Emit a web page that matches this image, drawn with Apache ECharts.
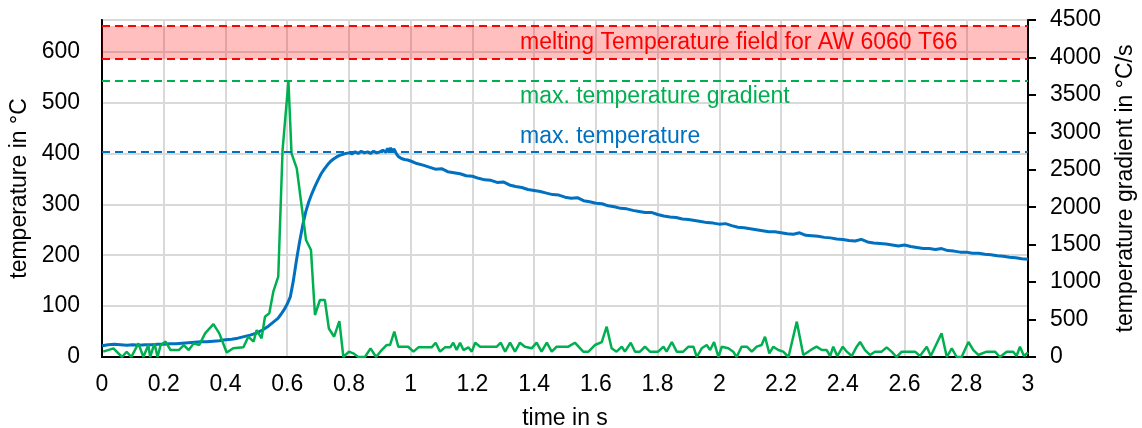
<!DOCTYPE html>
<html><head><meta charset="utf-8">
<script src="https://cdn.jsdelivr.net/npm/echarts@6/dist/echarts.min.js"></script>
<style>html,body{margin:0;padding:0;background:#fff}#c{width:1142px;height:428px}</style>
</head><body><div id="c"></div>
<script>
// ---- data ----
const tempTime = [0,0.02,0.04,0.06,0.08,0.10,0.12,0.14,0.16,0.18,0.20,0.22,0.24,0.26,0.28,0.30,0.32,0.34,0.36,0.38,0.40,0.42,0.44,0.46,0.48,0.50,0.52,0.54,0.56,0.57,0.58,0.59,0.60,0.61,0.62,0.63,0.64,0.65,0.66,0.67,0.68,0.69,0.70,0.71,0.72,0.73,0.74,0.75,0.76,0.77,0.78,0.79,0.80,0.81,0.82,0.83,0.84,0.85,0.86,0.87,0.88,0.89,0.90,0.91,0.92,0.925,0.93,0.935,0.94,0.945,0.95,0.955,0.96,0.97,0.98,0.99,1.00,1.02,1.04,1.06,1.08,1.10,1.12,1.14,1.16,1.18,1.20,1.22,1.24,1.26,1.28,1.30,1.32,1.34,1.36,1.38,1.40,1.42,1.44,1.46,1.48,1.50,1.52,1.54,1.56,1.58,1.60,1.62,1.64,1.66,1.68,1.70,1.72,1.74,1.76,1.78,1.80,1.82,1.84,1.86,1.88,1.90,1.92,1.94,1.96,1.98,2.00,2.02,2.04,2.06,2.08,2.10,2.12,2.14,2.16,2.18,2.20,2.22,2.24,2.26,2.28,2.30,2.32,2.34,2.36,2.38,2.40,2.42,2.44,2.46,2.48,2.50,2.52,2.54,2.56,2.58,2.60,2.62,2.64,2.66,2.68,2.70,2.72,2.74,2.76,2.78,2.80,2.82,2.84,2.86,2.88,2.90,2.92,2.94,2.96,2.98,3.00];
const tempValue = [22,24,25,24,23,24,23,24,24,25,25,26,26,27,28,29,30,30,31,32,34,35,37,40,43,47,53,61,71,76,84,93,104,118,150,190,226,258,285,305,321,335,348,360,369,377,384,389,393,396,398,400,401,399,403,400,404,401,403,400,404,401,403,406,402,410,403,411,402,409,404,398,394,390,388,387,385,380,377,373,369,370,364,362,360,356,355,351,348,347,343,344,338,335,333,329,327,325,322,319,318,314,312,313,307,305,302,301,297,295,292,291,288,286,284,284,280,277,275,274,271,270,268,266,264,263,261,262,258,255,254,252,250,248,246,246,244,242,241,244,239,238,237,235,234,232,231,229,228,231,226,224,223,222,220,218,220,217,215,213,213,211,213,209,208,206,206,204,204,202,201,199,198,196,195,193,192];

const gradTime = [0.004,0.037,0.065,0.08,0.095,0.118,0.134,0.15,0.156,0.17,0.18,0.19,0.206,0.222,0.249,0.265,0.281,0.297,0.315,0.334,0.361,0.38,0.404,0.425,0.458,0.474,0.491,0.501,0.517,0.528,0.542,0.555,0.571,0.585,0.604,0.614,0.631,0.661,0.677,0.69,0.706,0.722,0.735,0.752,0.769,0.782,0.8,0.814,0.83,0.852,0.87,0.888,0.906,0.922,0.933,0.947,0.96,0.992,1.009,1.025,1.068,1.081,1.095,1.111,1.128,1.138,1.149,1.16,1.171,1.187,1.198,1.209,1.225,1.279,1.292,1.306,1.322,1.338,1.354,1.37,1.392,1.408,1.424,1.441,1.457,1.473,1.511,1.532,1.559,1.576,1.597,1.619,1.635,1.651,1.667,1.684,1.694,1.713,1.727,1.743,1.759,1.775,1.802,1.819,1.829,1.846,1.862,1.883,1.90,1.916,1.927,1.943,1.959,1.97,1.983,1.997,2.008,2.029,2.045,2.056,2.072,2.089,2.105,2.121,2.137,2.148,2.162,2.175,2.191,2.207,2.224,2.251,2.272,2.288,2.305,2.315,2.332,2.348,2.359,2.369,2.382,2.40,2.413,2.429,2.445,2.456,2.472,2.488,2.504,2.526,2.542,2.558,2.574,2.591,2.634,2.65,2.672,2.685,2.72,2.737,2.753,2.769,2.785,2.807,2.823,2.839,2.866,2.893,2.909,2.931,2.952,2.963,2.974,2.987,3.0];
const gradValue = [71,116,0,70,0,182,0,160,0,182,0,160,205,93,93,160,93,182,160,316,440,316,60,116,129,271,205,360,249,538,583,872,1072,2763,3680,2719,2519,1562,1428,561,761,761,380,271,480,0,71,49,0,0,116,0,93,160,160,338,137,137,71,129,129,191,71,129,129,191,93,191,93,129,71,191,138,138,191,71,191,71,191,138,116,191,71,191,71,138,138,191,71,71,160,200,405,116,71,138,71,191,71,71,138,71,71,138,71,200,71,71,138,138,0,116,160,93,200,0,138,116,71,0,138,138,71,138,160,271,49,138,93,71,0,472,27,71,116,138,93,93,13,138,13,138,71,13,138,200,93,27,71,71,129,71,0,71,71,13,138,13,316,0,116,0,0,200,93,27,71,71,0,71,71,13,138,13,60];

const xMin = 0, xMax = 3, xStep = 0.2;
const tempMax = 662, tempStep = 100;
const gradMax = 4500, gradStep = 500;
const meltLow = 585, meltHigh = 650;
const maxTemp = 403;
const maxGrad = 3685;

const labelMelt = 'melting Temperature field for AW 6060 T66';
const labelGrad = 'max. temperature gradient';
const labelTemp = 'max. temperature';
const xTitle = 'time in s';
const yTitleLeft = 'temperature in °C';
const yTitleRight = 'temperature gradient in °C/s';

// ---- chart ----
const FONT = '"Liberation Sans", Arial, sans-serif';
const FS = 23;
const BLUE = '#0070c0', GREEN = '#00b050', RED = '#ff0000';

const tempData = tempTime.map((t, i) => [t, tempValue[i]]);
const gradData = gradTime.map((t, i) => [t, gradValue[i]]);

const chart = echarts.init(document.getElementById('c'), null, {renderer: 'canvas'});
chart.setOption({
  animation: false,
  backgroundColor: '#fff',
  textStyle: {fontFamily: FONT},
  grid: {left: 102, right: 114, top: 20, bottom: 71, containLabel: false, outerBoundsMode: 'none',
    show: true, borderColor: '#000', borderWidth: 2, backgroundColor: 'transparent'},
  xAxis: {
    type: 'value', min: xMin, max: xMax, interval: xStep,
    name: xTitle, nameLocation: 'middle', nameGap: 50,
    nameTextStyle: {fontSize: FS, color: '#000', fontFamily: FONT},
    axisLine: {show: true, onZero: false, lineStyle: {color: '#000', width: 2}},
    axisTick: {show: false},
    axisLabel: {fontSize: FS, color: '#000', margin: 16, fontFamily: FONT,
      formatter: v => String(Math.round(v * 10) / 10)},
    splitLine: {show: true, lineStyle: {color: '#d9d9d9', width: 2}}
  },
  yAxis: [{
    type: 'value', min: 0, max: tempMax, interval: tempStep, position: 'left',
    name: yTitleLeft, nameLocation: 'middle', nameRotate: 90, nameGap: 62,
    nameTextStyle: {fontSize: FS, color: '#000', fontFamily: FONT},
    axisLine: {show: true, onZero: false, lineStyle: {color: '#000', width: 2}},
    axisTick: {show: false},
    axisLabel: {fontSize: FS, color: '#000', margin: 22, fontFamily: FONT, showMaxLabel: false,
      formatter: v => String(v)},
    splitLine: {show: true, lineStyle: {color: '#d9d9d9', width: 2}}
  }, {
    type: 'value', min: 0, max: gradMax, interval: gradStep, position: 'right',
    name: yTitleRight, nameLocation: 'middle', nameRotate: 90, nameGap: 86,
    nameTextStyle: {fontSize: FS, color: '#000', fontFamily: FONT},
    axisLine: {show: true, onZero: false, lineStyle: {color: '#000', width: 2}},
    axisTick: {show: true, inside: false, length: 8, lineStyle: {color: '#000', width: 2}},
    axisLabel: {fontSize: FS, color: '#000', margin: 22, fontFamily: FONT,
      formatter: v => String(v)},
    splitLine: {show: false}
  }],
  series: [{
    type: 'line', name: 'temperature', yAxisIndex: 0, data: tempData,
    showSymbol: false, symbol: 'none', z: 3,
    lineStyle: {color: BLUE, width: 3},
    markArea: {silent: true, itemStyle: {color: 'rgba(255,0,0,0.25)'},
      data: [[{yAxis: meltLow}, {yAxis: meltHigh}]]},
    markLine: {silent: true, symbol: 'none', label: {show: false},
      data: [
        {yAxis: meltLow, lineStyle: {color: RED, type: [8, 5], width: 2}},
        {yAxis: meltHigh, lineStyle: {color: RED, type: [8, 5], width: 2}},
        {yAxis: maxTemp, lineStyle: {color: BLUE, type: [8, 5], width: 2}}
      ]}
  }, {
    type: 'line', name: 'gradient', yAxisIndex: 1, data: gradData,
    showSymbol: false, symbol: 'none', z: 4,
    lineStyle: {color: GREEN, width: 2.5},
    markLine: {silent: true, symbol: 'none', label: {show: false},
      data: [{yAxis: maxGrad, lineStyle: {color: GREEN, type: [8, 5], width: 2}}]}
  }],
  graphic: [
    {type: 'text', left: 520, top: 31, z: 100, style: {text: labelMelt, fill: RED, font: FS + 'px ' + FONT}},
    {type: 'text', left: 520, top: 85, z: 100, style: {text: labelGrad, fill: GREEN, font: FS + 'px ' + FONT}},
    {type: 'text', left: 520, top: 125, z: 100, style: {text: labelTemp, fill: BLUE, font: FS + 'px ' + FONT}}
  ]
});
</script>
</body></html>
